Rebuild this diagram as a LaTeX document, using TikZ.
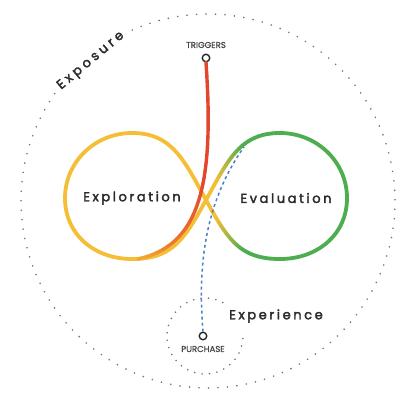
\documentclass[tikz,border=0pt]{standalone}
\usepackage{fontspec}
\setmainfont{Poppins}
\newfontfamily\widefont{Poppins}[LetterSpace=20,FakeBold=2.5]
\newfontfamily\arcfont{Poppins}[LetterSpace=27,FakeBold=2.5]
\newfontfamily\tagfont{Poppins}[FakeBold=1.5]
\usepackage{tikz}
\usetikzlibrary{calc}

\definecolor{gyellow}{HTML}{F4BE37}
\definecolor{ggreen}{HTML}{4DAE50}
\definecolor{gred}{HTML}{E4452E}
\definecolor{gorange}{HTML}{EE862C}
\definecolor{gblue}{HTML}{4A80C6}
\definecolor{ink}{HTML}{2A2A2A}

\begin{document}
\begin{tikzpicture}[x=1pt,y=-1pt,
    ring/.style={gray!90!black, line width=1.8pt, line cap=round, dash pattern=on 0pt off 9.5pt},
    smallring/.style={ring, dash pattern=on 0pt off 7.5pt},
    loopline/.style={line width=3.8pt, line cap=round},
    redline/.style={line width=3.4pt, line cap=round},
    pin/.style={circle, draw=ink, line width=1.4pt, fill=white, minimum size=7.5pt, inner sep=0pt},
    stage/.style={font=\widefont\fontsize{13}{15}\selectfont, text=ink},
    tag/.style={font=\tagfont\fontsize{8.5}{10}\selectfont, text=ink!85}]
    \useasboundingbox (0,0) rectangle (418,420);

    % dotted rings
    \draw[ring] (208,201) ++(-145:187) arc[start angle=-145, end angle=-474, radius=187];
    \draw[smallring] (205,336) ++(-62:38) arc[start angle=-62, end angle=-365, radius=38];

    % infinity loop
    \coordinate (X) at (206,200);
    \coordinate (lt) at (132,133);
    \coordinate (ll) at (65,198);
    \coordinate (lb) at (132,259);
    \coordinate (rt) at (280,133);
    \coordinate (rr) at (347,198);
    \coordinate (rb) at (280,259);

    \draw[loopline, gyellow] (X) .. controls +(-22,-40) and +(40,0) .. (lt)
        .. controls +(-37,0) and +(0,-36) .. (ll)
        .. controls +(0,37) and +(-37,0) .. (lb)
        .. controls +(40,0) and +(-22,40) .. (X);
    \draw[loopline, ggreen] (rt) .. controls +(37,0) and +(0,-36) .. (rr)
        .. controls +(0,37) and +(37,0) .. (rb);

    % yellow to green strands
    \path (X) .. controls +(22,-40) and +(-40,0) .. (rt)
        \foreach \i in {0,...,24} { coordinate[pos=\i/24] (up\i) };
    \path (X) .. controls +(22,40) and +(-40,0) .. (rb)
        \foreach \i in {0,...,24} { coordinate[pos=\i/24] (dn\i) };
    \foreach \i in {0,...,23} {
        \pgfmathtruncatemacro\j{\i+1}
        \pgfmathtruncatemacro\p{max(0,min(100,(\i/24-0.15)*230))}
        \draw[loopline, ggreen!\p!gyellow] (up\i) -- (up\j);
        \draw[loopline, ggreen!\p!gyellow] (dn\i) -- (dn\j);
    }

    % triggers line
    \node[pin] (trig) at (206,58) {};
    \node[tag, above=2pt] (triglbl) at (trig.north) {TRIGGERS};
    \coordinate (merge) at (138,259);
    \path (trig.south) .. controls (214,180) and (202,245) .. (merge)
        \foreach \i in {0,...,30} { coordinate[pos=\i/30] (rd\i) };
    \foreach \i in {0,...,29} {
        \pgfmathtruncatemacro\j{\i+1}
        \pgfmathtruncatemacro\p{max(0,min(100,(\i/30-0.4)*220))}
        \pgfmathtruncatemacro\q{max(0,min(100,(\i/30-0.82)*400))}
        \draw[redline, gyellow!\q!gorange!\p!gred] (rd\i) -- (rd\j);
    }

    % purchase line
    \node[pin] (buy) at (203,336) {};
    \node[tag, below=2pt] (buylbl) at (buy.south) {PURCHASE};
    \coordinate (hook) at (244,147);
    \draw[gblue, line width=1.5pt, dash pattern=on 3pt off 3pt] (buy.north) .. controls (198,270) and (203,205) .. (hook);

    % stage labels
    \node[stage] (explore) at (132,198) {Exploration};
    \node[stage] (evaluate) at (286,198) {Evaluation};
    \node[stage] (experience) at (276,316) {Experience};
    \node[stage, font=\arcfont\fontsize{13}{15}\selectfont, rotate=40] (exposure) at (91,61) {Exposure};
\end{tikzpicture}
\end{document}
